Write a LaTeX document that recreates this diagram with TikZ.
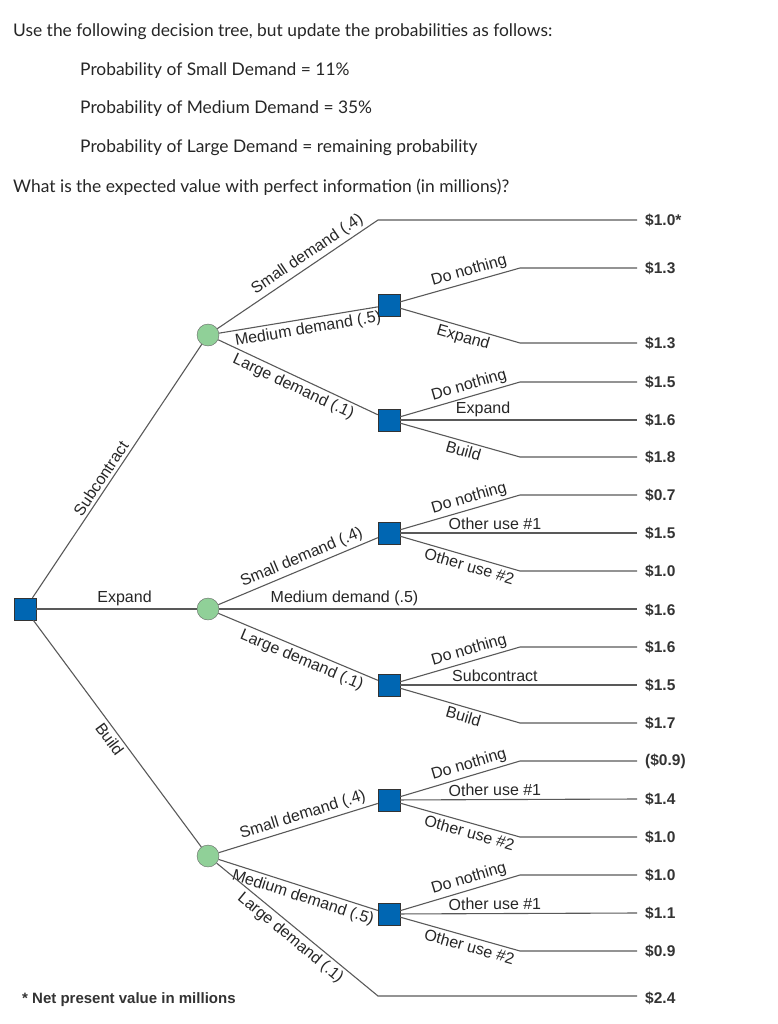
\documentclass[tikz,border=0pt]{standalone}
\usepackage{fontspec}
\setmainfont{Lato}
\newfontfamily\treefont{Liberation Sans}
\begin{document}
\begin{tikzpicture}[x=1pt,y=-1pt,
  dec/.style={draw=black!80,fill={rgb,255:red,0;green,102;blue,178},minimum size=22pt,inner sep=0pt},
  chance/.style={circle,draw=black!60,fill={rgb,255:red,144;green,208;blue,152},minimum size=22pt,inner sep=0pt},
  br/.style={draw=black!65,line width=1.1pt},
  lab/.style={font=\treefont\fontsize{16}{18}\selectfont,text=black!85,sloped,inner sep=3pt},
  val/.style={font=\treefont\bfseries\fontsize{15.5}{17}\selectfont,text=black!80,anchor=west,inner sep=0pt},
  hdr/.style={font=\fontsize{17.4}{20}\selectfont,text=black!85,anchor=west,inner sep=0pt}]
\useasboundingbox (0,0) rectangle (778,1024);
\node[hdr] (h1) at (13,32) {Use the following decision tree, but update the probabilities as follows:};
\node[hdr] (h2) at (80,71) {Probability of Small Demand = 11\%};
\node[hdr] (h3) at (80,109) {Probability of Medium Demand = 35\%};
\node[hdr] (h4) at (80,148) {Probability of Large Demand = remaining probability};
\node[hdr] (h5) at (13,187) {What is the expected value with perfect information (in millions)?};

\node[dec] (R) at (25,609) {};
\node[chance] (C1) at (208,335) {};
\node[chance] (C2) at (208,609) {};
\node[chance] (C3) at (208,856) {};
\node[dec] (D1) at (389,305) {};
\node[dec] (D2) at (389,420) {};
\node[dec] (D3) at (389,533) {};
\node[dec] (D4) at (389,685) {};
\node[dec] (D5) at (389,800) {};
\node[dec] (D6) at (389,914) {};

\draw[br] (R) -- node[lab,above,pos=0.45]{Subcontract} (C1);
\draw[br] (R) -- node[lab,above,pos=0.55]{Expand} (C2);
\draw[br] (R) -- node[lab,below,pos=0.5]{Build} (C3);

% chance 1
\coordinate (k1) at (378,220);
\draw[br] (C1) -- node[lab,above,pos=0.6]{Small demand (.4)} (k1) -- (637,220);
\draw[br] (C1) -- node[lab,below,pos=0.55]{Medium demand (.5)} (D1);
\draw[br] (C1) -- node[lab,below,pos=0.5]{Large demand (.1)} (D2);
% chance 2
\draw[br] (C2) -- node[lab,above,pos=0.55]{Small demand (.4)} (D3);
\draw[br] (C2) -- node[lab,above,pos=0.3]{Medium demand (.5)} (637,609);
\draw[br] (C2) -- node[lab,below,pos=0.55]{Large demand (.1)} (D4);
% chance 3
\coordinate (k3) at (378,996);
\draw[br] (C3) -- node[lab,above,pos=0.55]{Small demand (.4)} (D5);
\draw[br] (C3) -- node[lab,below,pos=0.55]{Medium demand (.5)} (D6);
\draw[br] (C3) -- node[lab,below,pos=0.5]{Large demand (.1)} (k3) -- (637,996);

% decision nodes
\draw[br] (D1) -- node[lab,above,pos=0.6]{Do nothing} (520,268) -- (637,268);
\draw[br] (D1) -- node[lab,below,pos=0.55]{Expand} (520,343) -- (637,343);
\draw[br] (D2) -- node[lab,above,pos=0.6]{Do nothing} (520,382) -- (637,382);
\draw[br] (D2) -- node[lab,above,pos=0.35]{Expand} (637,420);
\draw[br] (D2) -- node[lab,below,pos=0.55]{Build} (520,457) -- (637,457);
\draw[br] (D3) -- node[lab,above,pos=0.6]{Do nothing} (520,495) -- (637,495);
\draw[br] (D3) -- node[lab,above,pos=0.4]{Other use \#1} (637,533);
\draw[br] (D3) -- node[lab,below,pos=0.6]{Other use \#2} (520,571) -- (637,571);
\draw[br] (D4) -- node[lab,above,pos=0.6]{Do nothing} (520,647) -- (637,647);
\draw[br] (D4) -- node[lab,above,pos=0.4]{Subcontract} (637,685);
\draw[br] (D4) -- node[lab,below,pos=0.55]{Build} (520,723) -- (637,723);
\draw[br] (D5) -- node[lab,above,pos=0.6]{Do nothing} (520,761) -- (637,761);
\draw[br] (D5) -- node[lab,above,pos=0.4]{Other use \#1} (637,799);
\draw[br] (D5) -- node[lab,below,pos=0.6]{Other use \#2} (520,837) -- (637,837);
\draw[br] (D6) -- node[lab,above,pos=0.6]{Do nothing} (520,875) -- (637,875);
\draw[br] (D6) -- node[lab,above,pos=0.4]{Other use \#1} (637,913);
\draw[br] (D6) -- node[lab,below,pos=0.6]{Other use \#2} (520,951) -- (637,951);

\foreach \y/\v [count=\i] in {220/\$1.0*,268/\$1.3,343/\$1.3,382/\$1.5,420/\$1.6,457/\$1.8,495/\$0.7,533/\$1.5,571/\$1.0,610/\$1.6,647/\$1.6,685/\$1.5,723/\$1.7,761/(\$0.9),799/\$1.4,837/\$1.0,875/\$1.0,913/\$1.1,951/\$0.9,998/\$2.4}
  \node[val] (v\i) at (645,\y) {\v};
\node[val,anchor=west,font=\treefont\bfseries\fontsize{15}{17}\selectfont] (note) at (22,1000) {* Net present value in millions};
\end{tikzpicture}
\end{document}
